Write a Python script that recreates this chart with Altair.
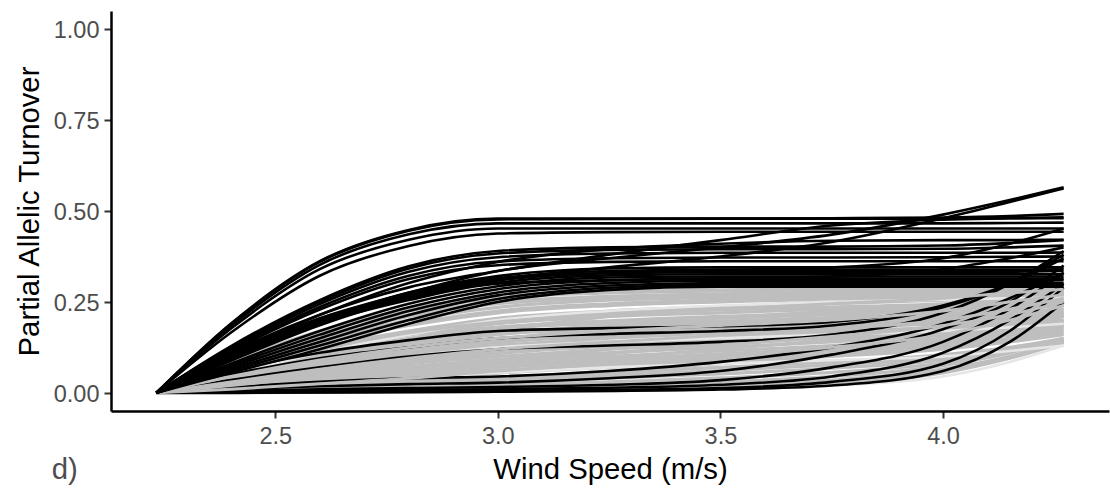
import altair as alt
import pandas as pd

# x positions (Wind Speed, m/s) at which every curve is sampled
X_GRID = [2.233, 2.4, 2.6, 2.8, 3.0, 3.25, 3.5, 3.75, 4.0, 4.15, 4.271]

# ---- black curves ----
black_top = [
    [0, .190, .362, .448, .479, .479, .479, .479, .479, .480, .480],
    [0, .188, .360, .446, .477, .478, .479, .480, .482, .486, .492],
    [0, .183, .352, .436, .466, .466, .466, .466, .466, .467, .468],
    [0, .176, .340, .421, .452, .452, .452, .452, .452, .452, .452],
    [0, .165, .322, .404, .438, .442, .443, .443, .443, .443, .443],
]
black_mid = [
    [0, .128, .255, .348, .390, .400, .402, .402, .405, .412, .420],
    [0, .125, .250, .342, .383, .393, .395, .395, .396, .400, .405],
    [0, .122, .244, .333, .373, .383, .385, .385, .385, .385, .386],
    [0, .118, .236, .322, .361, .370, .372, .372, .373, .374, .375],
    [0, .114, .229, .313, .351, .360, .362, .362, .362, .362, .362],
    [0, .105, .214, .302, .360, .395, .410, .418, .420, .420, .421],
]
black_cross = [
    [0, .105, .205, .275, .335, .370, .400, .435, .490, .530, .565],
    [0, .100, .195, .262, .310, .345, .375, .415, .480, .525, .562],
    [0, .110, .215, .290, .335, .380, .420, .460, .476, .480, .483],
    [0, .100, .200, .270, .315, .330, .338, .345, .370, .410, .452],
    [0, .095, .190, .255, .300, .310, .315, .320, .340, .370, .400],
]
black_bundle = [
    [0, .093, .197, .276, .321, .342, .345, .345, .345, .345, .345],
    [0, .091, .193, .270, .314, .335, .338, .338, .338, .338, .340],
    [0, .090, .189, .266, .309, .329, .332, .332, .332, .333, .335],
    [0, .088, .186, .261, .303, .323, .326, .326, .326, .326, .326],
    [0, .080, .170, .245, .293, .317, .320, .320, .320, .320, .320],
    [0, .075, .160, .235, .285, .309, .314, .314, .314, .314, .314],
    [0, .070, .150, .225, .276, .302, .308, .308, .308, .308, .310],
    [0, .065, .140, .214, .268, .295, .302, .302, .302, .302, .302],
    [0, .060, .130, .200, .258, .289, .297, .297, .297, .297, .297],
    [0, .055, .120, .190, .250, .283, .292, .292, .292, .292, .292],
]
black_low = [
    [0, .060, .110, .145, .170, .178, .183, .195, .240, .300, .370],
    [0, .050, .095, .125, .150, .162, .170, .185, .235, .300, .380],
    [0, .035, .070, .100, .120, .130, .140, .160, .220, .300, .390],
    [0, .015, .030, .040, .045, .060, .085, .125, .190, .260, .330],
    [0, .010, .018, .024, .028, .040, .060, .105, .175, .250, .350],
    [0, .005, .010, .013, .016, .022, .035, .070, .140, .230, .330],
    [0, .003, .006, .008, .010, .014, .022, .045, .110, .200, .300],
    [0, .001, .002, .003, .005, .008, .013, .030, .080, .170, .290],
    [0, .000, .001, .002, .003, .005, .009, .020, .060, .140, .250],
]

# ---- grey curves ----
gray_under = [
    [0, .085, .170, .230, .265, .278, .283, .287, .290, .290, .290],
    [0, .080, .165, .225, .260, .275, .280, .283, .285, .286, .287],
    [0, .075, .155, .215, .250, .265, .272, .277, .280, .282, .283],
    [0, .070, .150, .210, .245, .260, .265, .270, .275, .280, .285],
    [0, .070, .145, .200, .235, .255, .262, .268, .272, .275, .278],
    [0, .068, .140, .190, .225, .245, .255, .262, .268, .272, .276],
    [0, .065, .135, .185, .220, .240, .250, .258, .265, .270, .274],
    [0, .060, .125, .170, .205, .225, .237, .245, .255, .262, .270],
    [0, .060, .120, .160, .180, .190, .195, .200, .205, .215, .230],
    [0, .058, .120, .165, .198, .218, .228, .236, .245, .255, .265],
    [0, .055, .115, .160, .190, .210, .220, .230, .240, .250, .260],
    [0, .052, .108, .150, .180, .198, .210, .220, .232, .242, .252],
    [0, .050, .105, .145, .175, .195, .205, .215, .225, .235, .245],
    [0, .050, .100, .130, .150, .160, .165, .170, .180, .190, .210],
    [0, .048, .100, .138, .165, .185, .197, .207, .217, .228, .240],
    [0, .045, .095, .130, .160, .180, .190, .200, .210, .220, .230],
    [0, .040, .085, .120, .145, .165, .178, .188, .200, .210, .220],
    [0, .040, .080, .110, .130, .140, .145, .150, .160, .180, .200],
    [0, .038, .080, .112, .138, .158, .170, .182, .195, .205, .215],
    [0, .035, .075, .105, .130, .150, .165, .178, .190, .200, .210],
    [0, .030, .065, .090, .115, .135, .150, .165, .180, .190, .200],
    [0, .028, .060, .085, .108, .128, .142, .157, .172, .184, .195],
    [0, .025, .055, .080, .100, .120, .135, .150, .165, .178, .190],
    [0, .022, .050, .072, .092, .110, .125, .140, .157, .172, .185],
    [0, .020, .045, .065, .085, .100, .115, .130, .150, .165, .180],
    [0, .018, .040, .058, .078, .092, .107, .122, .142, .158, .175],
    [0, .015, .035, .050, .070, .085, .100, .115, .135, .150, .170],
    [0, .012, .030, .045, .062, .077, .092, .107, .127, .145, .165],
    [0, .010, .025, .040, .055, .070, .085, .100, .120, .140, .160],
    [0, .008, .018, .030, .042, .055, .070, .085, .105, .125, .150],
    [0, .006, .015, .025, .036, .048, .061, .077, .097, .120, .145],
    [0, .005, .012, .020, .030, .040, .052, .068, .090, .115, .140],
    [0, .004, .009, .015, .022, .030, .041, .056, .082, .112, .145],
    [0, 0, .060, .120, .170, .210, .235, .250, .260, .268, .275],
    [0, 0, .050, .100, .145, .180, .205, .225, .240, .250, .260],
    [0, 0, .040, .080, .120, .155, .180, .200, .215, .230, .245],
    [0, 0, .030, .060, .090, .120, .150, .175, .195, .210, .225],
    [0, 0, .025, .052, .080, .108, .135, .160, .183, .200, .218],
    [0, 0, .020, .045, .070, .095, .120, .145, .170, .190, .210],
    [0, 0, .015, .035, .055, .078, .100, .125, .150, .172, .195],
    [0, 0, .010, .025, .040, .060, .080, .105, .135, .160, .185],
    [0, .003, .006, .010, .015, .020, .030, .045, .075, .110, .150],
    [0, .002, .004, .006, .008, .012, .020, .035, .065, .100, .140],
    [0, .001, .003, .005, .007, .010, .016, .028, .060, .100, .142],
    [0, 0, .002, .003, .004, .006, .012, .025, .055, .095, .138],
]
gray_light = [
    [0, 0, .001, .002, .003, .005, .010, .020, .045, .085, .130],
    [0, .010, .025, .040, .055, .070, .080, .090, .100, .115, .130],
    [0, .030, .070, .100, .125, .140, .150, .160, .170, .180, .190],
    [0, .050, .110, .160, .200, .225, .240, .250, .256, .260, .262],
]
gray_over = [
    [0, .060, .120, .165, .195, .215, .230, .245, .260, .275, .285],
    [0, .045, .090, .125, .150, .170, .185, .200, .225, .250, .270],
    [0, .030, .065, .095, .120, .140, .158, .175, .200, .230, .260],
    [0, .020, .045, .070, .090, .110, .130, .155, .185, .215, .250],
    [0, .010, .025, .040, .060, .080, .100, .125, .160, .200, .240],
]

Y_TICKS = [0.0, 0.25, 0.5, 0.75, 1.0]
X_TICKS = [2.5, 3.0, 3.5, 4.0]

GROUPS = [
    ("gu", gray_under, "#BEBEBE", 3.2),
    ("gl", gray_light, "#E6E6E6", 2.6),
    ("bl", black_low, "#000000", 2.6),
    ("go", gray_over, "#BEBEBE", 3.0),
    ("bb", black_bundle, "#000000", 2.6),
    ("bm", black_mid, "#000000", 2.6),
    ("bc", black_cross, "#000000", 2.6),
    ("bt", black_top, "#000000", 2.6),
]

rows = []
for g, curves, col, _ in GROUPS:
    for i, ys in enumerate(curves):
        for x, y in zip(X_GRID, ys):
            rows.append({"id": f"{g}{i:02d}", "grp": g, "x": x, "y": y, "col": col})
df = pd.DataFrame(rows)

FONT = "Liberation Sans"
W, H = 998, 400

xs = alt.Scale(domain=[2.1311, 4.3729], nice=False, zero=False)
ys_ = alt.Scale(domain=[-0.05, 1.05], nice=False, zero=False)

x_axis = alt.Axis(values=X_TICKS, format=".1f", grid=False,
                  labelFont=FONT, labelFontSize=23.5, labelColor="#4D4D4D",
                  labelPadding=6.5, tickSize=7, tickWidth=2, tickColor="#333333",
                  domainColor="#000000", domainWidth=2.5,
                  title="Wind Speed (m/s)", titleFont=FONT, titleFontSize=29.3,
                  titleFontWeight="normal", titleColor="#000000",
                  titleX=W / 2, titleY=67.4, titleAlign="center",
                  titleBaseline="alphabetic")
y_axis = alt.Axis(values=Y_TICKS, format=".2f", grid=False,
                  labelFont=FONT, labelFontSize=23.5, labelColor="#4D4D4D",
                  labelPadding=5, labelOffset=1.5, tickSize=7, tickWidth=2,
                  tickColor="#333333", domainColor="#000000", domainWidth=2.5,
                  title="Partial Allelic Turnover", titleFont=FONT,
                  titleFontSize=29.3, titleFontWeight="normal",
                  titleColor="#000000", titleAngle=270, titleX=-73,
                  titleY=H / 2, titleAlign="center", titleBaseline="alphabetic")


def layer_for(g, sw):
    return alt.Chart(df).transform_filter(alt.datum.grp == g).mark_line(
        interpolate="monotone", strokeWidth=sw).encode(
        x=alt.X("x:Q", scale=xs, axis=x_axis),
        y=alt.Y("y:Q", scale=ys_, axis=y_axis),
        detail="id:N",
        color=alt.Color("col:N", scale=None),
    )


layers = [layer_for(g, sw) for g, _, _, sw in GROUPS]

tag = alt.Chart(pd.DataFrame({"t": ["d)"]})).mark_text(
    font=FONT, fontSize=29.3, color="#4D4D4D", align="left",
    baseline="alphabetic").encode(
    text="t:N", x=alt.value(-59.3), y=alt.value(467.5))

chart = alt.layer(*layers, tag).properties(
    width=W, height=H,
    autosize=alt.AutoSizeParams(type="none"),
    padding={"left": 111, "top": 11, "right": 1, "bottom": 90},
    background="white",
).configure_view(stroke=None)

chart.save("out.html", embed_options={"renderer": "svg", "actions": False})
